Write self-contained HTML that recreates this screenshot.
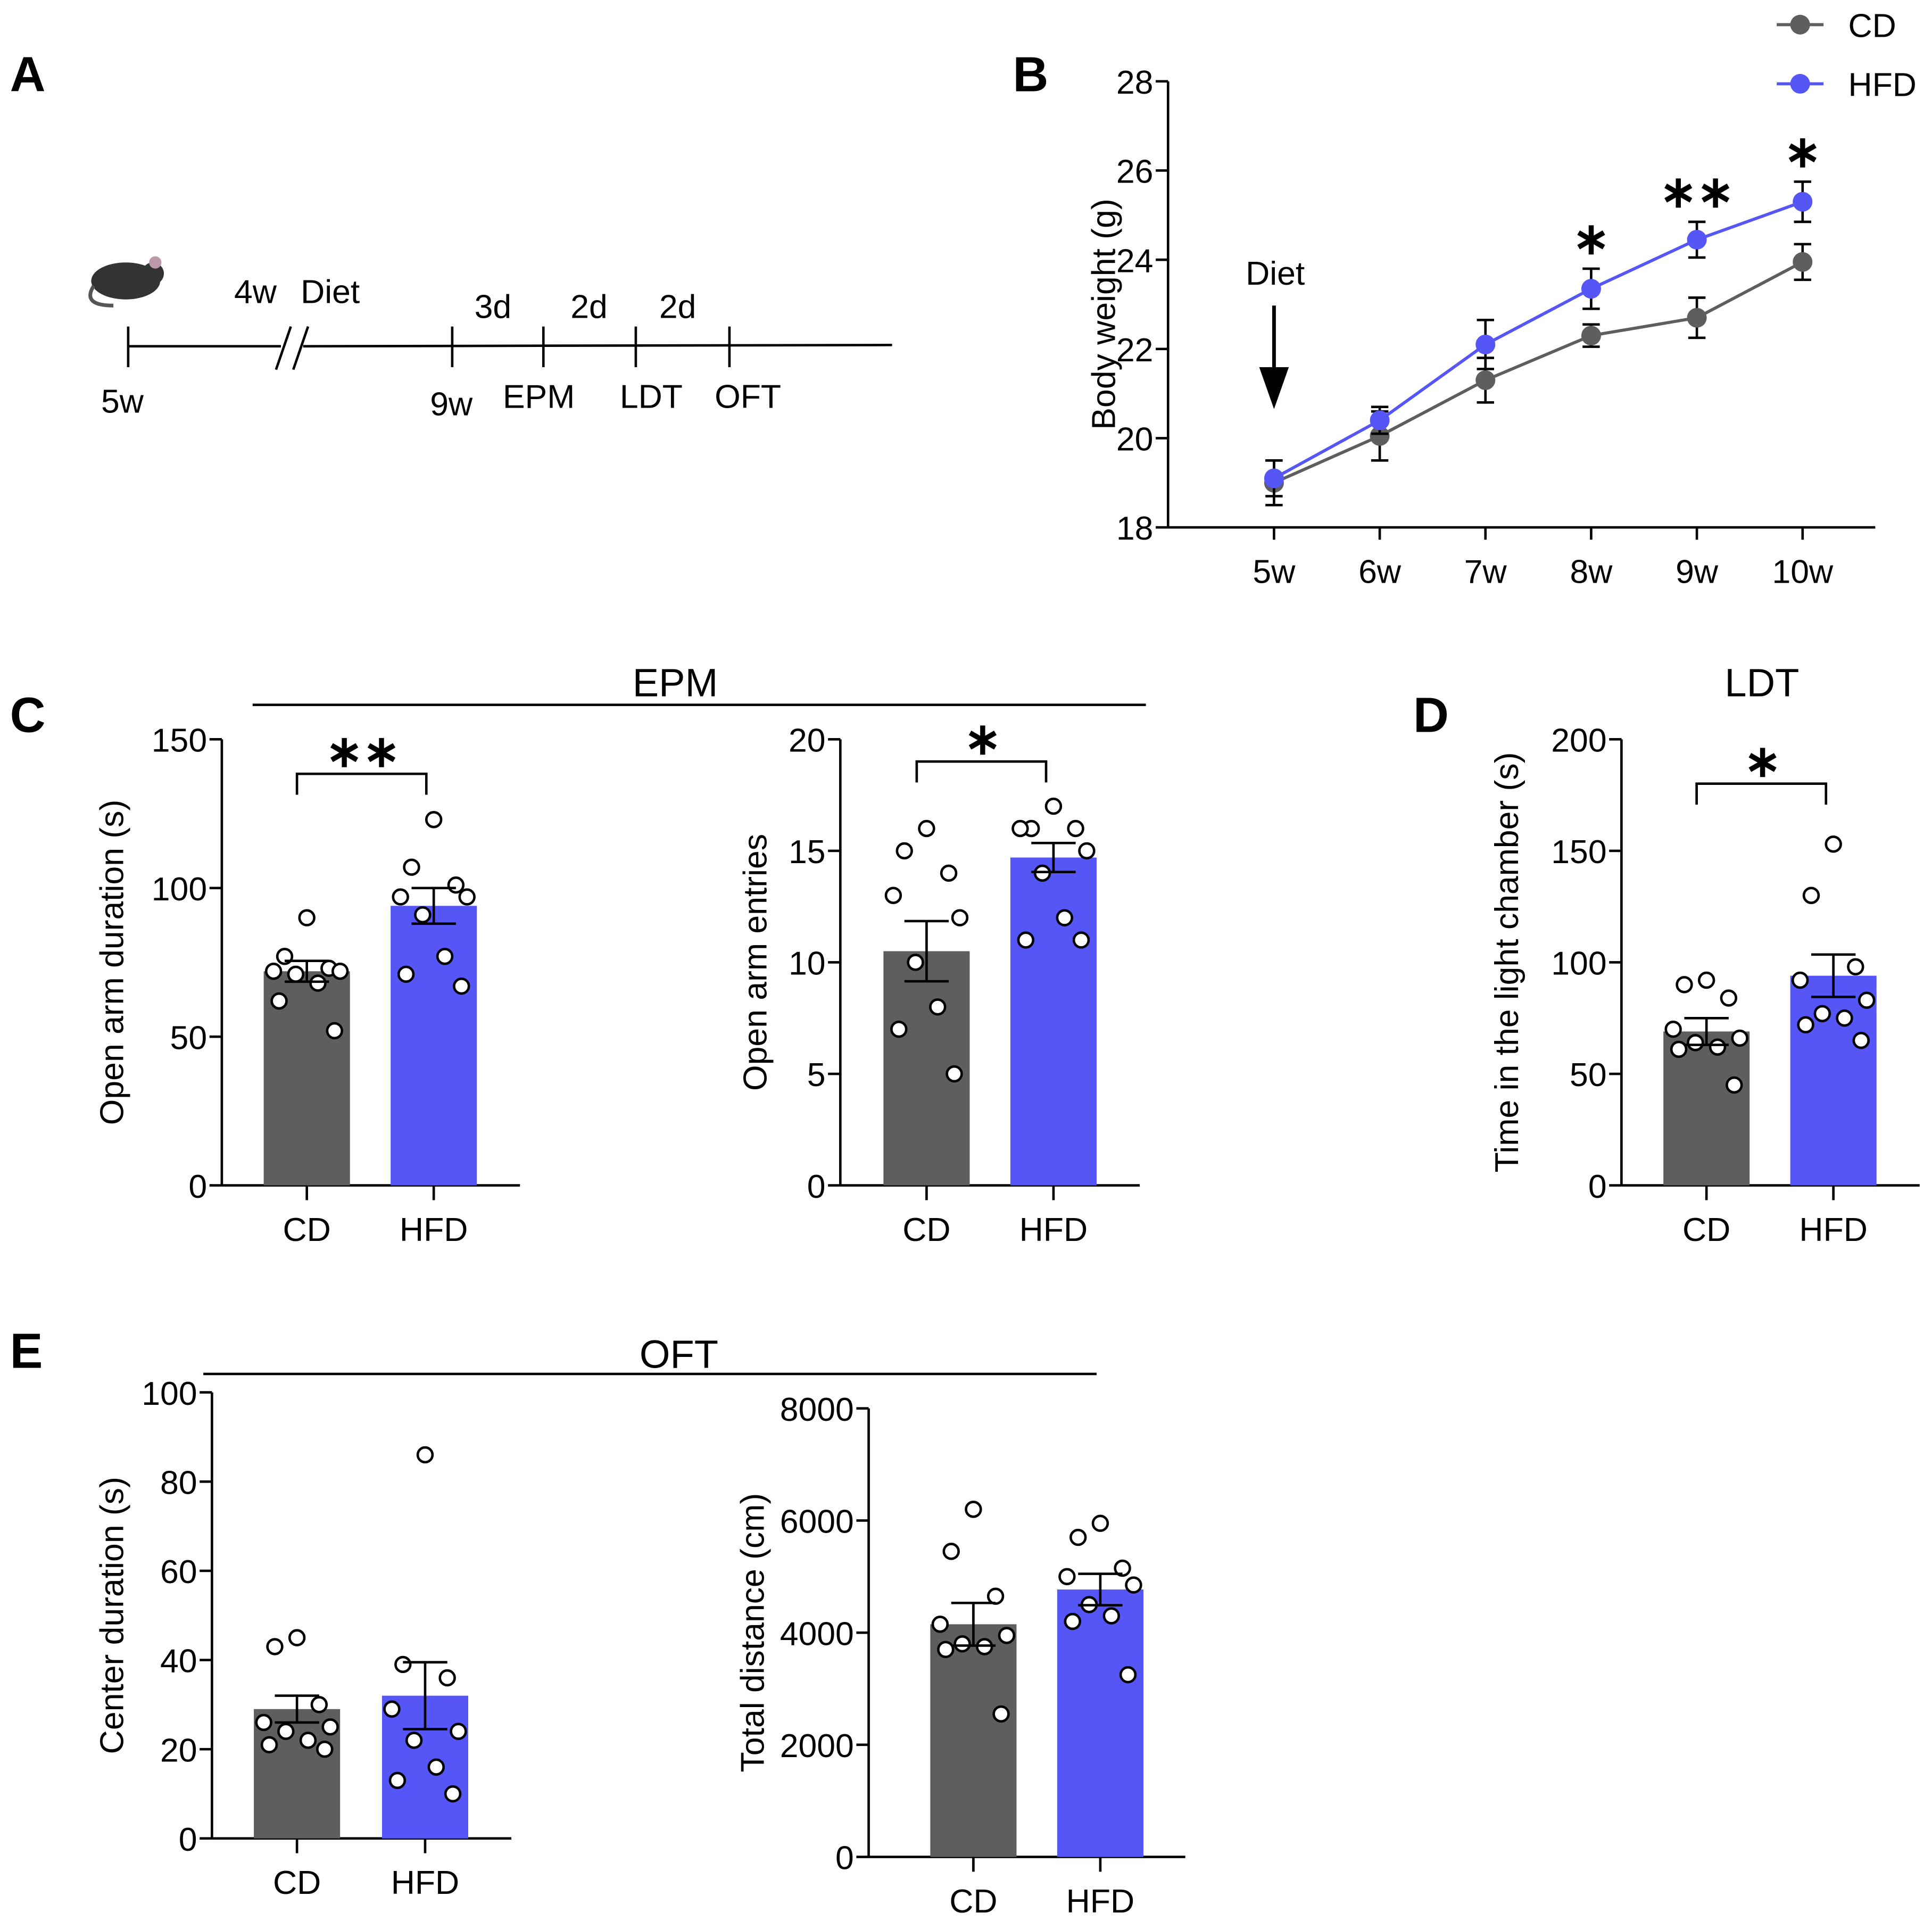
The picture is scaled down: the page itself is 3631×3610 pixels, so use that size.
<!DOCTYPE html>
<html><head><meta charset="utf-8"><style>
html,body{margin:0;padding:0;background:#fff;}
svg{display:block;font-family:"Liberation Sans",Arial,sans-serif;}
</style></head><body>
<svg id="fig" width="3631" height="3610" viewBox="0 0 1568 1559" xmlns="http://www.w3.org/2000/svg">
<rect width="1568" height="1559" fill="#fff"/>
<g font-weight="bold" font-size="40" fill="#000">
<text x="8" y="74">A</text>
<text x="822" y="74">B</text>
<text x="8" y="594">C</text>
<text x="1147" y="594">D</text>
<text x="8" y="1110">E</text>
</g>
<g stroke="#000" stroke-width="2" fill="none">
<line x1="104" y1="281" x2="228" y2="281"/><line x1="246" y1="281" x2="724" y2="280"/>
<line x1="224" y1="300" x2="236" y2="265"/><line x1="238" y1="300" x2="250" y2="265"/>
<line x1="104" y1="265" x2="104" y2="298"/><line x1="367" y1="265" x2="367" y2="298"/>
<line x1="441" y1="265" x2="441" y2="298"/><line x1="516" y1="265" x2="516" y2="298"/>
<line x1="592" y1="265" x2="592" y2="298"/>
</g>
<g>
<ellipse cx="102" cy="228" rx="28" ry="15" fill="#333"/><circle cx="124" cy="222" r="9" fill="#333"/>
<circle cx="126" cy="213" r="5" fill="#b9a"/><path d="M76 232 Q66 248 92 248" stroke="#555" stroke-width="3" fill="none"/>
</g>
<g font-size="27" fill="#000">
<text x="190" y="246">4w</text><text x="244" y="246">Diet</text>
<text x="385" y="258">3d</text><text x="463" y="258">2d</text><text x="535" y="258">2d</text>
<text x="82" y="335">5w</text><text x="349" y="337">9w</text><text x="408" y="331">EPM</text>
<text x="503" y="331">LDT</text><text x="580" y="331">OFT</text>
</g>
<text x="548" y="565" font-size="32" text-anchor="middle">EPM</text>
<line x1="205" y1="572" x2="930" y2="572" stroke="#000" stroke-width="2"/>
<text x="1430" y="565" font-size="32" text-anchor="middle">LDT</text>
<text x="551" y="1110" font-size="32" text-anchor="middle">OFT</text>
<line x1="165" y1="1115" x2="890" y2="1115" stroke="#000" stroke-width="2"/>
<g id="plots"></g>
</svg>
<script>
// Panel B data
const weeks = ["5w","6w","7w","8w","9w","10w"];
const cdWeight = [19.0,20.05,21.3,22.3,22.7,23.95];
const cdWeightErr = [0.5,0.55,0.5,0.25,0.45,0.4];
const hfdWeight = [19.1,20.4,22.1,23.35,24.45,25.3];
const hfdWeightErr = [0.4,0.3,0.55,0.45,0.4,0.45];
const weightSig = ["","","","*","**","*"];
const weightTicks = [18,20,22,24,26,28];
// Bar data
const groups = ["CD","HFD"];
const epmDurMean = [72,94], epmDurSem = [3.5,6];
const epmDurCD = [90,77,73,72,72,71,68,62,52];
const epmDurHFD = [123,107,101,97,97,91,77,71,67];
const epmEntMean = [10.5,14.7], epmEntSem = [1.35,0.65];
const epmEntCD = [16,15,14,13,12,10,8,7,5];
const epmEntHFD = [17,16,16,16,15,14,12,11,11];
const ldtMean = [69,94], ldtSem = [6,9.5];
const ldtCD = [92,90,84,70,66,64,62,61,45];
const ldtHFD = [153,130,98,92,83,77,75,72,65];
const oftCenMean = [29,32], oftCenSem = [3,7.5];
const oftCenCD = [45,43,30,26,25,24,22,21,20];
const oftCenHFD = [86,39,36,29,24,22,16,13,10];
const oftDistMean = [4150,4770], oftDistSem = [380,280];
const oftDistCD = [6200,5450,4650,4150,3950,3800,3750,3700,2550];
const oftDistHFD = [5950,5700,5150,5000,4850,4500,4300,4200,3250];

const NS="http://www.w3.org/2000/svg";
const root=document.getElementById('plots');
const CDC="#5e5e5e", HFC="#5656f7";
const FS=27;
function mk(tag,attrs,parent,text){const e=document.createElementNS(NS,tag);for(const k in attrs)e.setAttribute(k,attrs[k]);if(text!==undefined)e.textContent=text;(parent||root).appendChild(e);return e;}

// Panel B
(function(){
  const g=mk('g',{});
  
  
  const x0=948,y0=428,ytop=66,xr=1522;
  const y=v=>y0-(v-18)/(28-18)*(y0-ytop);
  const x=i=>1034+i*85.8;
  mk('line',{x1:x0,y1:ytop,x2:x0,y2:y0,stroke:'#000','stroke-width':2},g);
  mk('line',{x1:x0,y1:y0,x2:xr,y2:y0,stroke:'#000','stroke-width':2},g);
  weightTicks.forEach(t=>{mk('line',{x1:x0-10,y1:y(t),x2:x0,y2:y(t),stroke:'#000','stroke-width':2},g);
    const tx=mk('text',{x:x0-12,y:y(t)+10,'font-size':FS,'text-anchor':'end'},g,t);
    });
  weeks.forEach((w,i)=>{mk('line',{x1:x(i),y1:y0,x2:x(i),y2:y0+10,stroke:'#000','stroke-width':2},g);
    const tx=mk('text',{x:x(i),y:y0+45,'font-size':FS,'text-anchor':'middle'},g,w);
    });
  const yt=mk('text',{x:0,y:0,'font-size':FS,'text-anchor':'middle',transform:`translate(905,255) rotate(-90)`},g,'Body weight (g)');
  
  [[cdWeight,cdWeightErr,CDC,'cd'],[hfdWeight,hfdWeightErr,HFC,'hfd']].forEach(([m,e,c,n])=>{
    const pts=m.map((v,i)=>x(i)+','+y(v)).join(' ');
    const pl=mk('polyline',{points:pts,fill:'none',stroke:c,'stroke-width':2.5},g);
    
    m.forEach((v,i)=>{
      mk('line',{x1:x(i),y1:y(v-e[i]),x2:x(i),y2:y(v+e[i]),stroke:'#000','stroke-width':2},g);
      mk('line',{x1:x(i)-7,y1:y(v-e[i]),x2:x(i)+7,y2:y(v-e[i]),stroke:'#000','stroke-width':2},g);
      mk('line',{x1:x(i)-7,y1:y(v+e[i]),x2:x(i)+7,y2:y(v+e[i]),stroke:'#000','stroke-width':2},g);
      const p=mk('circle',{cx:x(i),cy:y(v),r:8,fill:c},g);
      
    });
  });
  weightSig.forEach((s,i)=>{if(!s)return;
    const t=mk('text',{x:x(i),y:y(hfdWeight[i]+hfdWeightErr[i])-12,'font-size':36,'font-weight':'bold','text-anchor':'middle'},g,s.replace(/\*/g,'∗'));
    });
  mk('line',{x1:1034,y1:248,x2:1034,y2:300,stroke:'#000','stroke-width':3},g);
  mk('polygon',{points:'1022,298 1046,298 1034,332'},g);
  const dl=mk('text',{x:1035,y:231,'font-size':FS,'text-anchor':'middle'},g,'Diet');
  
  [['CD',CDC,20],['HFD',HFC,68]].forEach(([l,c,yy])=>{
    const lg=mk('g',{},g);
    
    mk('line',{x1:1442,y1:yy,x2:1480,y2:yy,stroke:c,'stroke-width':2.5},lg);
    mk('circle',{cx:1461,cy:yy,r:8,fill:c},lg);
    mk('text',{x:1500,y:yy+10,'font-size':FS},lg,l);
  });
})();

function bar(o){
  const g=mk('g',{});
  
  
  const y=v=>o.y0-v/o.max*(o.y0-o.ytop);
  mk('line',{x1:o.x0,y1:o.ytop,x2:o.x0,y2:o.y0,stroke:'#000','stroke-width':2},g);
  mk('line',{x1:o.x0,y1:o.y0,x2:o.xr,y2:o.y0,stroke:'#000','stroke-width':2},g);
  o.ticks.forEach(t=>{mk('line',{x1:o.x0-10,y1:y(t),x2:o.x0,y2:y(t),stroke:'#000','stroke-width':2},g);
    const tx=mk('text',{x:o.x0-12,y:y(t)+10,'font-size':FS,'text-anchor':'end'},g,t);
    });
  const yt=mk('text',{x:0,y:0,'font-size':FS,'text-anchor':'middle',transform:`translate(${o.tx},${(o.y0+o.ytop)/2}) rotate(-90)`},g,o.title);
  
  const pts=[o.cd,o.hfd];
  groups.forEach((gr,i)=>{
    const cx=o.cx[i], c=i?HFC:CDC;
    const r=mk('rect',{x:cx-35,y:y(o.mean[i]),width:70,height:o.y0-y(o.mean[i]),fill:c},g);
    
    mk('line',{x1:cx,y1:o.y0,x2:cx,y2:o.y0+12,stroke:'#000','stroke-width':2},g);
    const tl=mk('text',{x:cx,y:o.y0+45,'font-size':FS,'text-anchor':'middle'},g,gr);
    
    const jit=[0,-20,20,-30,30,-10,10,-25,25];
    pts[i].forEach((v,k)=>{
      const p=mk('circle',{cx:cx+jit[k]*0.9,cy:y(v),r:6,fill:'#fff',stroke:'#000','stroke-width':2},g);
      
    });
    const m=o.mean[i],s=o.sem[i];
    mk('line',{x1:cx,y1:y(m-s),x2:cx,y2:y(m+s),stroke:'#000','stroke-width':2},g);
    mk('line',{x1:cx-18,y1:y(m-s),x2:cx+18,y2:y(m-s),stroke:'#000','stroke-width':2},g);
    mk('line',{x1:cx-18,y1:y(m+s),x2:cx+18,y2:y(m+s),stroke:'#000','stroke-width':2},g);
  });
  if(o.sig){
    const b=mk('polyline',{points:`${o.cx[0]-8},${o.by+17} ${o.cx[0]-8},${o.by} ${o.cx[1]-6},${o.by} ${o.cx[1]-6},${o.by+17}`,fill:'none',stroke:'#000','stroke-width':2},g);
    
    const t=mk('text',{x:(o.cx[0]+o.cx[1])/2-6,y:o.by-6,'font-size':36,'font-weight':'bold','text-anchor':'middle'},g,o.sig.replace(/\*/g,'∗'));
    
  }
}
bar({name:'epm-duration-chart',x0:180,xr:422,y0:962,ytop:600,max:150,ticks:[0,50,100,150],cx:[249,352],mean:epmDurMean,sem:epmDurSem,cd:epmDurCD,hfd:epmDurHFD,title:'Open arm duration (s)',tx:100,sig:'**',by:628});
bar({name:'epm-entries-chart',x0:682,xr:925,y0:962,ytop:600,max:20,ticks:[0,5,10,15,20],cx:[752,855],mean:epmEntMean,sem:epmEntSem,cd:epmEntCD,hfd:epmEntHFD,title:'Open arm entries',tx:622,sig:'*',by:618});
bar({name:'ldt-chart',x0:1316,xr:1558,y0:962,ytop:600,max:200,ticks:[0,50,100,150,200],cx:[1385,1488],mean:ldtMean,sem:ldtSem,cd:ldtCD,hfd:ldtHFD,title:'Time in the light chamber (s)',tx:1232,sig:'*',by:636});
bar({name:'oft-center-chart',x0:172,xr:415,y0:1492,ytop:1130,max:100,ticks:[0,20,40,60,80,100],cx:[241,345],mean:oftCenMean,sem:oftCenSem,cd:oftCenCD,hfd:oftCenHFD,title:'Center duration (s)',tx:100});
bar({name:'oft-distance-chart',x0:705,xr:962,y0:1507,ytop:1143,max:8000,ticks:[0,2000,4000,6000,8000],cx:[790,893],mean:oftDistMean,sem:oftDistSem,cd:oftDistCD,hfd:oftDistHFD,title:'Total distance (cm)',tx:620});
</script>
</body></html>
